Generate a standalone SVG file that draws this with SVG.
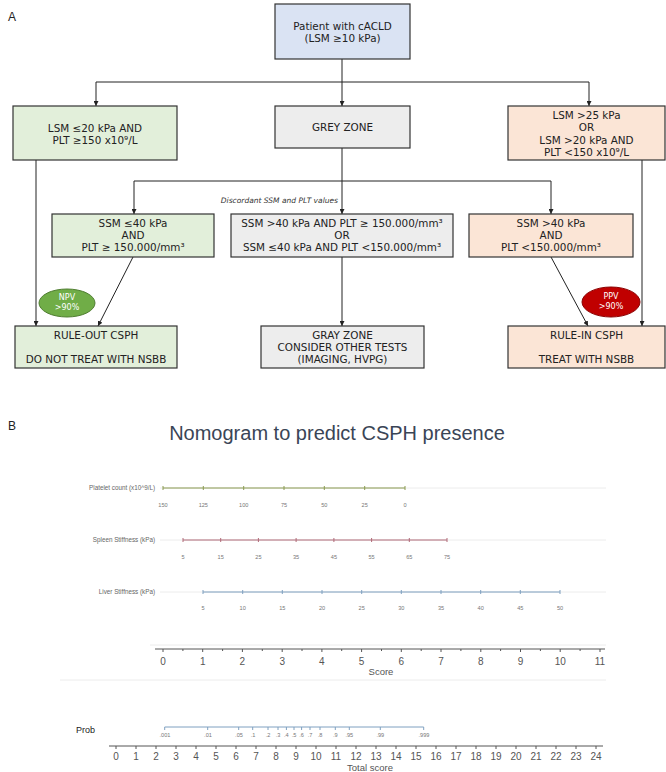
<svg xmlns="http://www.w3.org/2000/svg" width="666" height="772" viewBox="0 0 666 772">
<defs>
<marker id="arr" viewBox="0 0 8 8" refX="8" refY="4" markerWidth="5" markerHeight="5" markerUnits="userSpaceOnUse" orient="auto">
<path d="M0,0 L8,4 L0,8 z" fill="#222"/>
</marker>
<style>
.box{stroke:#333;stroke-width:1.2}
.blue{fill:#dae3f3}.green{fill:#e2efda}.grey{fill:#ededed}.peach{fill:#fbe5d6}
.t{font-family:"DejaVu Sans",Verdana,sans-serif;font-size:10.4px;fill:#222;text-anchor:middle}
.c{fill:none;stroke:#222;stroke-width:1}
.ca{fill:none;stroke:#222;stroke-width:1;marker-end:url(#arr)}
.et{font-family:"DejaVu Sans",Verdana,sans-serif;font-size:8px;fill:#fff;text-anchor:middle}
.lab{font-family:"Liberation Sans",Arial,sans-serif;fill:#222}
.n{font-family:"Liberation Sans",Arial,sans-serif;fill:#555;text-anchor:middle}
.rl{font-family:"Liberation Sans",Arial,sans-serif;font-size:6.3px;fill:#666;text-anchor:end}
.tk{font-family:"Liberation Sans",Arial,sans-serif;font-size:5.6px;fill:#777;text-anchor:middle}
.faint{stroke:#ececec;stroke-width:1}
</style>
</defs>
<rect width="666" height="772" fill="#fff"/>
<text x="8" y="21" class="lab" font-size="12">A</text>
<text x="8" y="430" class="lab" font-size="12">B</text>

<g id="connectors">
<path class="ca" d="M342,59 V106"/>
<path class="c" d="M96,82 H589"/>
<path class="ca" d="M96,82 V106"/>
<path class="ca" d="M589,82 V106"/>
<path class="ca" d="M342,148 V214"/>
<path class="c" d="M134,181 H551"/>
<path class="ca" d="M134,181 V214"/>
<path class="ca" d="M551,181 V214"/>
<path class="ca" d="M36,160 V326"/>
<path class="ca" d="M642,160 V326"/>
<path class="ca" d="M133,257 L98,326"/>
<path class="ca" d="M342,257 V326"/>
<path class="ca" d="M551,257 L588,326"/>
<text x="338" y="203" font-family="DejaVu Sans,Verdana,sans-serif" font-size="7.5" font-style="italic" fill="#333" text-anchor="end">Discordant SSM and PLT values</text>
</g>

<g id="patient">
<rect class="box blue" x="275" y="4" width="135" height="55"/>
<text class="t" x="342.5" y="29.5">Patient with cACLD</text>
<text class="t" x="342.5" y="41.5">(LSM ≥10 kPa)</text>
</g>
<g id="lowrisk">
<rect class="box green" x="13" y="106" width="164" height="54"/>
<text class="t" x="95" y="131.5">LSM ≤20 kPa AND</text>
<text class="t" x="95" y="143.5">PLT ≥150 x10⁹/L</text>
</g>
<g id="greyzone">
<rect class="box grey" x="275" y="106" width="135" height="42"/>
<text class="t" x="342.5" y="131">GREY ZONE</text>
</g>
<g id="highrisk">
<rect class="box peach" x="508" y="106" width="157" height="54"/>
<text class="t" x="586.5" y="118.5">LSM &gt;25 kPa</text>
<text class="t" x="586.5" y="131">OR</text>
<text class="t" x="586.5" y="143.5">LSM &gt;20 kPa AND</text>
<text class="t" x="586.5" y="156">PLT &lt;150 x10⁹/L</text>
</g>
<g id="ssmlow">
<rect class="box green" x="52" y="214" width="162" height="43"/>
<text class="t" x="133" y="227">SSM ≤40 kPa</text>
<text class="t" x="133" y="239">AND</text>
<text class="t" x="133" y="251">PLT ≥ 150.000/mm³</text>
</g>
<g id="discordant">
<rect class="box grey" x="231" y="214" width="222" height="43"/>
<text class="t" x="342" y="227">SSM &gt;40 kPa AND PLT ≥ 150.000/mm³</text>
<text class="t" x="342" y="239">OR</text>
<text class="t" x="342" y="251">SSM ≤40 kPa AND PLT &lt;150.000/mm³</text>
</g>
<g id="ssmhigh">
<rect class="box peach" x="469" y="214" width="164" height="43"/>
<text class="t" x="551" y="227">SSM &gt;40 kPa</text>
<text class="t" x="551" y="239">AND</text>
<text class="t" x="551" y="251">PLT &lt;150.000/mm³</text>
</g>
<g id="npv">
<ellipse cx="67" cy="303" rx="28" ry="14" fill="#70ad47" stroke="#507e32" stroke-width="1"/>
<text class="et" x="67" y="300">NPV</text>
<text class="et" x="67" y="310">&gt;90%</text>
</g>
<g id="ppv">
<ellipse cx="611" cy="302" rx="29" ry="15" fill="#c00000" stroke="#8b0000" stroke-width="1"/>
<text class="et" x="611" y="299">PPV</text>
<text class="et" x="611" y="309">&gt;90%</text>
</g>
<g id="ruleout">
<rect class="box green" x="15" y="326" width="162" height="42"/>
<text class="t" x="96" y="338.5">RULE-OUT CSPH</text>
<text class="t" x="96" y="362.5">DO NOT TREAT WITH NSBB</text>
</g>
<g id="grayzone2">
<rect class="box grey" x="261" y="326" width="163" height="42"/>
<text class="t" x="342.5" y="338.5">GRAY ZONE</text>
<text class="t" x="342.5" y="350.5">CONSIDER OTHER TESTS</text>
<text class="t" x="342.5" y="362.5">(IMAGING, HVPG)</text>
</g>
<g id="rulein">
<rect class="box peach" x="508" y="326" width="157" height="42"/>
<text class="t" x="586.5" y="338.5">RULE-IN CSPH</text>
<text class="t" x="586.5" y="362.5">TREAT WITH NSBB</text>
</g>

<g id="nomogram">
<text x="337" y="440" font-family="Liberation Sans,Arial,sans-serif" font-size="20" fill="#3a4556" text-anchor="middle">Nomogram to predict CSPH presence</text>
<line class="faint" x1="160" y1="488" x2="606" y2="488"/>
<line class="faint" x1="160" y1="540" x2="606" y2="540"/>
<line class="faint" x1="160" y1="592" x2="606" y2="592"/>
<line class="faint" x1="150" y1="645" x2="606" y2="645"/>
<line class="faint" x1="60" y1="680" x2="606" y2="680"/>

<g id="platelet">
<text class="rl" x="155" y="490">Platelet count (x10^9/L)</text>
<g stroke="#8a9a50" stroke-width="1">
<line x1="163" y1="488" x2="405" y2="488"/>
<path d="M163,486V490M203.3,486V490M243.7,486V490M284,486V490M324.3,486V490M364.7,486V490M405,486V490"/>
</g>
<g class="tk">
<text x="163" y="507">150</text><text x="203.3" y="507">125</text><text x="243.7" y="507">100</text><text x="284" y="507">75</text><text x="324.3" y="507">50</text><text x="364.7" y="507">25</text><text x="405" y="507">0</text>
</g>
</g>
<g id="spleen">
<text class="rl" x="155" y="542">Spleen Stiffness (kPa)</text>
<g stroke="#b06a78" stroke-width="1">
<line x1="183" y1="540" x2="447" y2="540"/>
<path d="M183,538V542M220.7,538V542M258.4,538V542M296.1,538V542M333.9,538V542M371.6,538V542M409.3,538V542M447,538V542"/>
</g>
<g class="tk">
<text x="183" y="559">5</text><text x="220.7" y="559">15</text><text x="258.4" y="559">25</text><text x="296.1" y="559">35</text><text x="333.9" y="559">45</text><text x="371.6" y="559">55</text><text x="409.3" y="559">65</text><text x="447" y="559">75</text>
</g>
</g>
<g id="liver">
<text class="rl" x="155" y="594">Liver Stiffness (kPa)</text>
<g stroke="#7fa0c0" stroke-width="1">
<line x1="203" y1="592" x2="560" y2="592"/>
<path d="M203,590V594M242.7,590V594M282.3,590V594M322,590V594M361.7,590V594M401.3,590V594M441,590V594M480.7,590V594M520.3,590V594M560,590V594"/>
</g>
<g class="tk">
<text x="203" y="610">5</text><text x="242.7" y="610">10</text><text x="282.3" y="610">15</text><text x="322" y="610">20</text><text x="361.7" y="610">25</text><text x="401.3" y="610">30</text><text x="441" y="610">35</text><text x="480.7" y="610">40</text><text x="520.3" y="610">45</text><text x="560" y="610">50</text>
</g>
</g>
<g id="score">
<g stroke="#555" stroke-width="1">
<line x1="155" y1="649" x2="605" y2="649"/>
<path d="M163,649v3M202.7,649v3M242.4,649v3M282.2,649v3M321.9,649v3M361.6,649v3M401.3,649v3M441,649v3M480.8,649v3M520.5,649v3M560.2,649v3M600,649v3"/>
<path d="M182.9,649v2M222.6,649v2M262.3,649v2M302,649v2M341.7,649v2M381.5,649v2M421.2,649v2M460.9,649v2M500.6,649v2M540.4,649v2M580.1,649v2"/>
</g>
<g class="n" font-size="10">
<text x="163" y="665">0</text><text x="202.7" y="665">1</text><text x="242.4" y="665">2</text><text x="282.2" y="665">3</text><text x="321.9" y="665">4</text><text x="361.6" y="665">5</text><text x="401.3" y="665">6</text><text x="441" y="665">7</text><text x="480.8" y="665">8</text><text x="520.5" y="665">9</text><text x="560.2" y="665">10</text><text x="600" y="665">11</text>
</g>
<text class="n" font-size="9.5" x="381" y="675">Score</text>
</g>
<g id="prob">
<text class="lab" font-size="9" fill="#555" x="76" y="733">Prob</text>
<g stroke="#7fa0c0" stroke-width="1">
<line x1="164.7" y1="727" x2="423.7" y2="727"/>
<path d="M164.7,727v3M207.7,727v3M238.7,727v3M252.7,727v3M268,727v3M278,727v3M286.4,727v3M294,727v3M301.6,727v3M310,727v3M320,727v3M335.3,727v3M349.3,727v3M380.3,727v3M423.7,727v3"/>
</g>
<g class="tk" font-size="6">
<text x="165" y="737">.001</text><text x="208" y="737">.01</text><text x="239" y="737">.05</text><text x="253" y="737">.1</text><text x="268" y="737">.2</text><text x="278" y="737">.3</text><text x="286.4" y="737">.4</text><text x="294" y="737">.5</text><text x="301.6" y="737">.6</text><text x="310" y="737">.7</text><text x="320" y="737">.8</text><text x="335.3" y="737">.9</text><text x="349.3" y="737">.95</text><text x="380.3" y="737">.99</text><text x="424" y="737">.999</text>
</g>
</g>
<g id="totalscore">
<g stroke="#555" stroke-width="1">
<line x1="109" y1="746" x2="603" y2="746"/>
<path d="M116,746v3M136,746v3M156,746v3M176,746v3M196,746v3M216,746v3M236,746v3M256,746v3M276,746v3M296,746v3M316,746v3M336,746v3M356,746v3M376,746v3M396,746v3M416,746v3M436,746v3M456,746v3M476,746v3M496,746v3M516,746v3M536,746v3M556,746v3M576,746v3M596,746v3"/>
</g>
<g class="n" font-size="10">
<text x="116" y="759.5">0</text><text x="136" y="759.5">1</text><text x="156" y="759.5">2</text><text x="176" y="759.5">3</text><text x="196" y="759.5">4</text><text x="216" y="759.5">5</text><text x="236" y="759.5">6</text><text x="256" y="759.5">7</text><text x="276" y="759.5">8</text><text x="296" y="759.5">9</text><text x="316" y="759.5">10</text><text x="336" y="759.5">11</text><text x="356" y="759.5">12</text><text x="376" y="759.5">13</text><text x="396" y="759.5">14</text><text x="416" y="759.5">15</text><text x="436" y="759.5">16</text><text x="456" y="759.5">17</text><text x="476" y="759.5">18</text><text x="496" y="759.5">19</text><text x="516" y="759.5">20</text><text x="536" y="759.5">21</text><text x="556" y="759.5">22</text><text x="576" y="759.5">23</text><text x="596" y="759.5">24</text>
</g>
<text class="n" font-size="9.5" x="370" y="770.5">Total score</text>
</g>
</g>
</svg>
